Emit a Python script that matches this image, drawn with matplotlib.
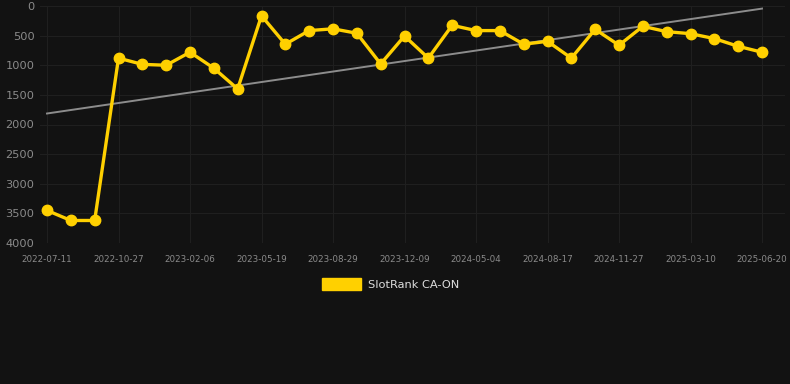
import numpy as np
import matplotlib
matplotlib.use("Agg")
import matplotlib.pyplot as plt

# data
dates = [
    "2022-07-11", "", "", "2022-10-27", "", "", "2023-02-06", "", "",
    "2023-05-19", "", "", "2023-08-29", "", "", "2023-12-09", "", "",
    "2024-05-04", "", "", "2024-08-17", "", "", "2024-11-27", "", "",
    "2025-03-10", "", "", "2025-06-20",
]
rank = [
    3450, 3620, 3620, 880, 985, 1000, 780, 1050, 1400,
    165, 645, 415, 385, 460, 978, 506, 880, 326,
    415, 415, 645, 596, 880, 394, 662, 343, 433,
    467, 550, 680, 780,
]
series_name = "SlotRank CA-ON"

bg = "#121212"
grid_c = "#1f1f1f"
tick_c = "#8a8a8a"
gold = "#FFD000"

W, H = 790, 384
fig = plt.figure(figsize=(W / 100, H / 100), dpi=100, facecolor=bg)
left_px, right_px, top_px, bot_px = 40, 785, 6, 243
ax = fig.add_axes([left_px / W, 1 - bot_px / H,
                   (right_px - left_px) / W, (bot_px - top_px) / H])
ax.set_facecolor(bg)

x = np.arange(len(rank))
step = (762 - 47) / 30
ax.set_xlim(-(47 - left_px) / step, 30 + (right_px - 762) / step)
ax.set_ylim(4000, 0)

# trend line (least squares)
k, b = np.polyfit(x, rank, 1)
ax.plot([x[0], x[-1]], [k * x[0] + b, k * x[-1] + b], color="#8c8c8c",
        lw=1.4, zorder=2)

ax.plot(x, rank, color=gold, lw=2.4, marker="o", ms=7.5,
        markerfacecolor=gold, markeredgecolor=gold, zorder=3, clip_on=False)

tick_idx = [i for i, d in enumerate(dates) if d]
ax.set_xticks(tick_idx)
ax.set_xticklabels([dates[i] for i in tick_idx], fontsize=6.3, color=tick_c)
ax.set_yticks(range(0, 4001, 500))
ax.set_yticklabels([str(v) for v in range(0, 4001, 500)], fontsize=8.2,
                   color=tick_c)
ax.tick_params(axis="x", length=0, pad=9)
ax.tick_params(axis="y", length=0, pad=4)
ax.grid(True, color=grid_c, lw=0.8)
ax.set_axisbelow(True)
for s in ax.spines.values():
    s.set_visible(False)

# legend
fig.patches.append(plt.Rectangle((322 / W, 1 - 290 / H), 39 / W, 12 / H,
                                 transform=fig.transFigure, color=gold))
fig.text(368 / W, 1 - 284.5 / H, series_name, color="#dddddd", fontsize=8.2,
         va="center", ha="left")

fig.savefig("out.png", dpi=100, facecolor=bg)
